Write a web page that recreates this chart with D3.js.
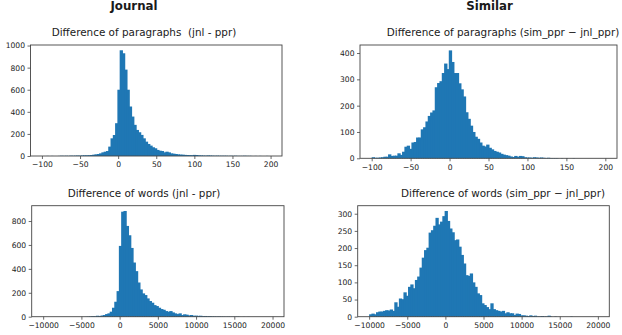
<!DOCTYPE html>
<html>
<head>
<meta charset="utf-8">
<script src="https://cdn.jsdelivr.net/npm/d3@7"></script>
<style>
  body { margin: 0; background: #fff; }
  text { font-family: "DejaVu Sans", sans-serif; fill: #1a1a1a; white-space: pre; }
</style>
</head>
<body>
<svg id="chart" width="622" height="335"></svg>
<script>
// histogram counts, 100 equal bins over the given range
var jnlParCounts = [
  0,0,1,0,1,0,0,1,2,1,
  2,1,3,2,3,4,3,5,6,6,
  7,9,12,15,18,24,33,39,45,85,
  160,190,297,600,957,930,782,600,448,357,
  282,236,215,191,160,130,109,94,79,70,
  55,48,45,33,39,33,24,21,18,15,
  13,12,10,9,8,7,10,9,6,5,
  4,3,5,4,3,2,3,2,2,2,
  2,1,2,1,2,1,1,1,2,1,
  1,1,0,1,0,1,0,0,1,0
];
var simParCounts = [
  4,2,2,3,4,6,6,15,9,10,
  10,19,13,25,44,48,36,60,62,79,
  79,110,118,140,161,174,182,270,286,293,
  324,360,339,410,366,324,324,285,262,235,
  175,150,124,100,82,74,60,48,45,52,
  40,34,28,25,22,17,14,12,10,7,
  5,9,6,9,8,4,3,3,2,4,
  3,2,3,2,1,2,1,1,1,1,
  0,1,0,1,0,0,1,0,0,0,
  0,0,0,0,0,0,0,0,0,0
];
var jnlWordCounts = [
  0,0,0,0,0,0,0,0,0,0,
  0,0,0,0,0,0,0,0,1,2,
  3,5,4,8,6,10,14,22,28,42,
  75,125,214,592,878,884,759,681,575,453,
  381,286,228,195,181,153,131,117,97,89,
  75,64,58,47,42,47,36,28,22,28,
  14,20,17,11,14,8,9,7,8,5,
  6,4,5,3,3,2,3,2,2,1,
  2,1,1,1,2,1,0,1,0,1,
  0,0,0,0,0,0,0,0,0,0
];
var simWordCounts = [
  7,9,7,13,15,15,17,19,18,21,
  17,42,29,53,51,71,61,87,94,83,
  107,117,143,172,194,201,245,252,265,288,
  269,277,293,308,279,257,246,223,225,204,
  180,155,121,119,126,100,87,68,63,39,
  34,28,22,39,22,19,17,15,17,10,
  13,10,10,5,9,8,4,4,3,2,
  4,2,3,1,1,2,1,1,3,1,
  0,1,0,0,0,0,0,0,1,0,
  0,0,0,0,0,0,0,0,0,0
];

var parRange = [-100, 200];
var wordRange = [-10000, 20000];
var parTicks = [-100, -50, 0, 50, 100, 150, 200];
var wordTicks = [-10000, -5000, 0, 5000, 10000, 15000, 20000];
var jnlParYTicks = [0, 200, 400, 600, 800, 1000];
var simParYTicks = [0, 100, 200, 300, 400];
var jnlWordYTicks = [0, 200, 400, 600, 800];
var simWordYTicks = [0, 50, 100, 150, 200, 250, 300];

var colTitles = ["Journal", "Similar"];
var panelTitles = [
  "Difference of paragraphs  (jnl - ppr)",
  "Difference of paragraphs (sim_ppr \u2212 jnl_ppr)",
  "Difference of words (jnl - ppr)",
  "Difference of words (sim_ppr \u2212 jnl_ppr)"
];

var svg = d3.select("#chart");
var blue = "#1f77b4";
var minus = function (d) { return String(d).replace("-", "\u2212"); };

// column headings
svg.selectAll("text.col")
   .data(colTitles)
   .enter().append("text")
   .attr("class", "col")
   .attr("x", function (d, i) { return i === 0 ? 134 : 489.5; })
   .attr("y", 10.3)
   .attr("text-anchor", "middle")
   .style("font-size", "11.8px")
   .style("font-weight", "bold")
   .text(function (d) { return d; });

var panels = [
  { counts: jnlParCounts,  range: parRange,  xt: parTicks,  yt: jnlParYTicks,  box: [30.5, 282, 45, 156],     title: panelTitles[0], tx: 144, ty: 36 },
  { counts: simParCounts,  range: parRange,  xt: parTicks,  yt: simParYTicks,  box: [360, 617, 45, 158.3],    title: panelTitles[1], tx: 503, ty: 36 },
  { counts: jnlWordCounts, range: wordRange, xt: wordTicks, yt: jnlWordYTicks, box: [31.7, 284, 205.7, 316.7], title: panelTitles[2], tx: 144, ty: 197.3 },
  { counts: simWordCounts, range: wordRange, xt: wordTicks, yt: simWordYTicks, box: [357.7, 609.3, 205.7, 316.7], title: panelTitles[3], tx: 503, ty: 197.3 }
];

panels.forEach(function (p) {
  var lo = p.range[0], hi = p.range[1];
  var pad = (hi - lo) * 0.05;
  var w = (hi - lo) / p.counts.length;
  var x = d3.scaleLinear().domain([lo - pad, hi + pad]).range([p.box[0], p.box[1]]);
  var y = d3.scaleLinear().domain([0, d3.max(p.counts) * 1.05]).range([p.box[3], p.box[2]]);

  var g = svg.append("g");

  // bars overlap the next one by 1px so no antialias seams show
  g.selectAll("rect.bar")
   .data(p.counts)
   .enter().append("rect")
   .attr("class", "bar")
   .attr("x", function (d, i) { return x(lo + i * w); })
   .attr("width", function (d, i) {
     var bw = x(lo + (i + 1) * w) - x(lo + i * w);
     return i < p.counts.length - 1 && p.counts[i + 1] > 0 ? bw + 1 : bw;
   })
   .attr("y", function (d) { return y(d); })
   .attr("height", function (d) { return y(0) - y(d); })
   .attr("fill", blue);

  // frame
  g.append("rect")
   .attr("x", p.box[0]).attr("y", p.box[2])
   .attr("width", p.box[1] - p.box[0]).attr("height", p.box[3] - p.box[2])
   .attr("fill", "none").attr("stroke", "#444").attr("stroke-width", 0.9);

  var xa = g.append("g")
   .attr("transform", "translate(0," + p.box[3] + ")")
   .call(d3.axisBottom(x).tickValues(p.xt).tickFormat(minus).tickSize(3).tickSizeOuter(0).tickPadding(3));
  var ya = g.append("g")
   .attr("transform", "translate(" + p.box[0] + ",0)")
   .call(d3.axisLeft(y).tickValues(p.yt).tickFormat(minus).tickSize(3).tickSizeOuter(0).tickPadding(2.5));

  [xa, ya].forEach(function (a) {
    a.select(".domain").remove();
    a.selectAll("line").attr("stroke", "#444").attr("stroke-width", 0.8);
    a.selectAll("text").attr("fill", "#1a1a1a")
     .style("font-family", "'DejaVu Sans', sans-serif").style("font-size", "7.6px");
  });

  g.append("text")
   .attr("x", p.tx).attr("y", p.ty)
   .attr("text-anchor", "middle")
   .style("font-size", "10.4px")
   .text(p.title);
});
</script>
</body>
</html>
